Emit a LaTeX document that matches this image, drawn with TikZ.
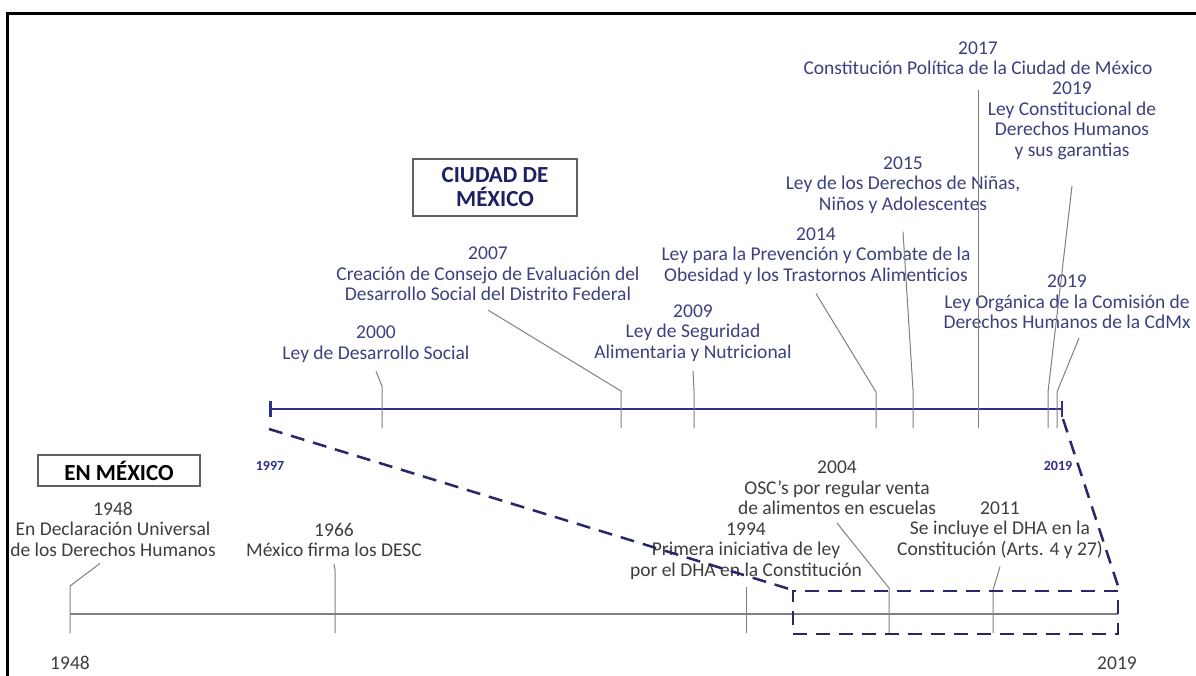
\documentclass[tikz,border=0pt]{standalone}
\usepackage{fontspec}
\setmainfont{Carlito}
\usepackage{tikz}
\usetikzlibrary{arrows.meta}

\definecolor{cdmxblue}{RGB}{46,49,140}
\definecolor{cdmxtext}{RGB}{62,64,128}
\definecolor{boxtext}{RGB}{30,32,100}
\definecolor{mextext}{RGB}{62,62,62}
\definecolor{leadgray}{RGB}{128,128,128}
\definecolor{zoomblue}{RGB}{40,40,104}

\begin{document}
\begin{tikzpicture}[x=1pt, y=-1pt,
    event/.style={align=center, inner sep=0pt, font=\fontsize{19.5}{20.5}\selectfont},
    cdmx/.style={event, text=cdmxtext},
    mex/.style={event, text=mextext},
    titlebox/.style={draw=gray!75!black, line width=1.2pt, align=center,
      font=\bfseries\fontsize{23}{24}\selectfont},
    leader/.style={leadgray, line width=1pt},
    zoomline/.style={zoomblue, line width=2.5pt, dash pattern=on 14pt off 9pt}]
    \clip (0,0) rectangle (1196,675);
    \fill[white] (0,0) rectangle (1196,675);
    \draw[line width=3pt] (7,13) rectangle (1220,700);

    % titles
    \node[titlebox, text=boxtext, minimum width=164pt, minimum height=57pt] (cdmxbox) at (495,187.5) {CIUDAD DE\\MÉXICO};
    \node[titlebox, minimum width=162pt, minimum height=31pt] (mexbox) at (119,470.5) {EN MÉXICO};

    % Ciudad de Mexico events
    \node[cdmx] (e2000) at (376,344) {2000\\Ley de Desarrollo Social};
    \node[cdmx] (e2007) at (488,274) {2007\\Creación de Consejo de Evaluación del\\Desarrollo Social del Distrito Federal};
    \node[cdmx] (e2009) at (693,333) {2009\\Ley de Seguridad\\Alimentaria y Nutricional};
    \node[cdmx] (e2014) at (816,256) {2014\\Ley para la Prevención y Combate de la\\Obesidad y los Trastornos Alimenticios};
    \node[cdmx] (e2015) at (903,185) {2015\\Ley de los Derechos de Niñas,\\Niños y Adolescentes};
    \node[cdmx] (e2017) at (978,58) {2017\\Constitución Política de la Ciudad de México};
    \node[cdmx] (e2019a) at (1072,121) {2019\\Ley Constitucional de\\Derechos Humanos\\y sus garantias};
    \node[cdmx] (e2019b) at (1067,302) {2019\\Ley Orgánica de la Comisión de\\Derechos Humanos de la CdMx};

    % Mexico events
    \node[mex] (e1948) at (113,529) {1948\\En Declaración Universal\\de los Derechos Humanos};
    \node[mex] (e1966) at (334,540) {1966\\México firma los DESC};
    \node[mex] (e1994) at (746,551) {1994\\Primera iniciativa de ley\\por el DHA en la Constitución};
    \node[mex] (e2004) at (837,488) {2004\\OSC's por regular venta\\de alimentos en escuelas};
    \node[mex] (e2011) at (1000,530) {2011\\Se incluye el DHA en la\\Constitución (Arts. 4 y 27)};

    % timelines
    \coordinate (cA) at (269,409);
    \coordinate (cB) at (1063,409);
    \coordinate (mA) at (70,614);
    \coordinate (mB) at (1118,614);
    \draw[cdmxblue, line width=2.5pt, {Bar[width=16pt]}-{Bar[width=16pt]}] (cA) -- (cB);
    \draw[leadgray, line width=1.2pt] (mA) -- (mB);

    \node[font=\bfseries\fontsize{14}{16}\selectfont, text=cdmxblue] (y1997) at (270,466) {1997};
    \node[font=\bfseries\fontsize{14}{16}\selectfont, text=cdmxblue] (y2019) at (1058,466) {2019};
    \node[event, text=mextext] (y1948) at (70,663) {1948};
    \node[event, text=mextext] (yend) at (1117,663) {2019};

    % leaders
    \foreach \n/\kx/\ky/\gap in {2000/382/386/9, 2007/621/391/9, 2009/694/390/9, 2014/876/392/9,
        2015/913/390/18, 2017/978/390/15, 2019a/1048/392/26}
      \draw[leader] ([yshift=-\gap pt]e\n.south) -- (\kx,\ky) -- (\kx,428);
    \draw[leader] ([xshift=12pt, yshift=-9pt]e2019b.south) -- (1057,392) -- (1057,428);
    \draw[leader] ([xshift=-13pt, yshift=-7pt]e1948.south) -- (70,586) -- (70,633);
    \foreach \n/\kx/\ky/\gap in {1966/335/570/7, 1994/746/588/7, 2004/889/588/8, 2011/993/590/8}
      \draw[leader] ([yshift=-\gap pt]e\n.south) -- (\kx,\ky) -- (\kx,633);

    % zoom of the last period
    \node[draw=zoomblue, line width=2.5pt, dash pattern=on 14pt off 9pt, inner sep=0pt,
      minimum width=325pt, minimum height=43pt] (zoombox) at (955.5,612.5) {};
    \draw[zoomline] ([yshift=-20pt]cA) -- (zoombox.north west);
    \draw[zoomline] ([yshift=-10pt]cB) -- (zoombox.north east);
\end{tikzpicture}
\end{document}
